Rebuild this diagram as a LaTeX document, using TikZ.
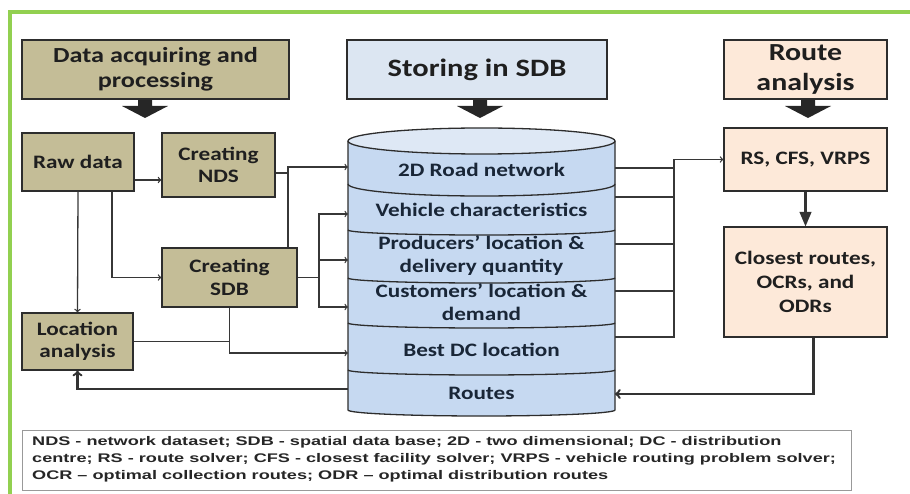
\documentclass[tikz,border=0pt]{standalone}
\usepackage{fontspec}
\setmainfont{Carlito}[FakeStretch=1.22]
\newfontfamily\legendfont{Liberation Sans}[FakeStretch=1.45]
\usepackage{tikz}
\usetikzlibrary{positioning}
\usetikzlibrary{arrows}
\definecolor{framegreen}{RGB}{146,208,80}
\definecolor{tanfill}{RGB}{196,189,151}
\definecolor{bluefill}{RGB}{220,230,242}
\definecolor{cylfill}{RGB}{198,217,241}
\definecolor{cyltop}{RGB}{222,232,245}
\definecolor{peachfill}{RGB}{253,233,217}
\definecolor{boxline}{RGB}{45,45,45}
\definecolor{connline}{RGB}{55,55,55}
\definecolor{cyltext}{RGB}{25,38,55}
\tikzset{
	box/.style={
		draw=boxline,
		line width=1.3pt,
		align=center,
		inner sep=0pt,
		text=black!88},
	tanbox/.style={box, fill=tanfill},
	bluebox/.style={box, fill=bluefill},
	peachbox/.style={box, fill=peachfill},
	title/.style={font=\fontsize{21.5}{25}\selectfont\bfseries},
	item/.style={font=\fontsize{19}{22.5}\selectfont\bfseries},
	band/.style={align=center, text=cyltext,
		font=\fontsize{19}{23}\selectfont\bfseries},
	cylline/.style={draw=boxline, line width=1.3pt},
	conn/.style={draw=connline, line width=1.3pt, >=to},
	heavy/.style={draw=black!80, line width=2.4pt, >=to},
	bigarrow/.style={fill=black!85}
}
\newcommand{\bigdown}[1]{%
	\fill[bigarrow] ([xshift=-7pt]#1) -- ++(14,0) -- ++(0,-6) -- ++(16,0)
		-- ++(-23,-12) -- ++(-23,12) -- ++(16,0) -- cycle;}

\begin{document}
\begin{tikzpicture}[x=1pt,y=1pt]
	\useasboundingbox (0,0) rectangle (910,-494);
	\draw[framegreen, line width=4pt] (9.5,-600) -- (9.5,-12.5) -- (1000,-12.5);

	% headers
	\node[tanbox, title, minimum width=267pt, minimum height=59pt] (acq) at (155.5,-69.5) {Data acquiring and\\processing};
	\node[bluebox, title, font=\fontsize{25}{30}\selectfont\bfseries, minimum width=260pt, minimum height=59pt] (store) at (477,-69.5) {Storing in SDB};
	\node[peachbox, title, font=\fontsize{24.5}{30}\selectfont\bfseries, minimum width=163pt, minimum height=59pt] (route) at (805.5,-69.5) {Route\\analysis};
	\coordinate (h1) at (145,-100);
	\coordinate (h2) at (480,-100);
	\coordinate (h3) at (808,-100);
	\bigdown{h1}
	\bigdown{h2}
	\bigdown{h3}

	% left boxes
	\node[tanbox, item, minimum width=112pt, minimum height=58pt] (raw) at (78,-162) {Raw data};
	\node[tanbox, item, minimum width=113pt, minimum height=64pt] (nds) at (218.5,-165) {Creating\\NDS};
	\node[tanbox, item, minimum width=135pt, minimum height=59pt] (sdb) at (229.5,-277.5) {Creating\\SDB};
	\node[tanbox, item, minimum width=111pt, minimum height=57pt] (loc) at (77.5,-341.5) {Location\\analysis};

	% right boxes
	\node[peachbox, item, minimum width=163pt, minimum height=63pt] (rs) at (805.5,-159.5) {RS, CFS, VRPS};
	\node[peachbox, item, font=\fontsize{19}{24}\selectfont\bfseries, minimum width=163pt, minimum height=110pt] (closest) at (805.5,-282) {Closest routes,\\OCRs, and\\ODRs};

	% spatial data base
	\fill[cylfill] (348,-141) -- (348,-410) arc[start angle=180, end angle=360, x radius=133.5, y radius=6] -- (615,-141) -- cycle;
	\draw[cylline] (348,-141) -- (348,-410) arc[start angle=180, end angle=360, x radius=133.5, y radius=6] -- (615,-141);
	\draw[cylline, fill=cyltop] (481.5,-141) ellipse[x radius=133.5, y radius=13];
	\draw[cylline] (348,-184) arc[start angle=180, end angle=360, x radius=133.5, y radius=12];
	\foreach \y in {230,278,323,370}
		\draw[cylline] (348,-\y) arc[start angle=180, end angle=360, x radius=133.5, y radius=5];
	\node[band] (b1) at (481.5,-170) {2D Road network};
	\node[band] (b2) at (481.5,-210) {Vehicle characteristics};
	\node[band] (b3) at (481.5,-256) {Producers’ location \&\\delivery quantity};
	\node[band] (b4) at (481.5,-302) {Customers’ location \&\\demand};
	\node[band] (b5) at (481.5,-350) {Best DC location};
	\node[band] (b6) at (481.5,-393) {Routes};

	\coordinate (in1) at (348,-167);
	\coordinate (in2) at (348,-214);
	\coordinate (in3) at (348,-260);
	\coordinate (in4) at (348,-307);
	\coordinate (in5) at (348,-353);
	\coordinate (rin) at (348,-389);
	\coordinate (out1) at (615,-168);
	\coordinate (out2) at (615,-197);
	\coordinate (out3) at (615,-244);
	\coordinate (out4) at (615,-291);
	\coordinate (out5) at (615,-337);
	\coordinate (rout) at (615,-394);
	\coordinate (j1) at (288,-167);
	\coordinate (j2) at (319,-277.5);
	\coordinate (j3) at (674,-159.5);

	% connectors
	\draw[conn, ->] ([yshift=-18pt]raw.east) -- ([yshift=-18pt]raw.east -| nds.west);
	\draw[conn, ->] (raw.south) -- (loc.north);
	\draw[conn, ->] ([xshift=34pt]raw.south) |- (sdb.west);
	\draw[conn, ->] ([yshift=-8pt]nds.east) -| (j1) -- (in1);
	\draw[conn] (sdb.north -| j1) -- (j1);
	\draw[conn] (sdb.east) -- (j2);
	\foreach \i in {2,3,4}
		\draw[conn, ->] (j2) |- (in\i);
	\draw[conn, ->] (sdb.south) |- (in5);
	\draw[conn] (loc.east) -- (loc.east -| sdb.south);
	\draw[heavy, ->] (rin) -| (loc.south);

	\foreach \i in {1,...,4}
		\draw[conn] (out\i) -- (out\i -| j3);
	\draw[conn, ->] (out5) -| (j3) -- (rs.west);
	\draw[heavy, -triangle 45] (rs.south) -- (closest.north);
	\draw[heavy, ->] ([xshift=8pt]closest.south) |- (rout);

	% legend
	\node[draw=black!40, line width=0.8pt, fill=white, minimum width=829pt, minimum height=60pt, inner sep=0pt] (legend) at (436.5,-460) {};
	\node[anchor=north west, align=left, inner sep=0pt, text=black!85,
		font=\legendfont\fontsize{12.5}{17}\selectfont\bfseries] (legtext) at (32,-436)
		{NDS - network dataset; SDB - spatial data base; 2D - two dimensional; DC - distribution\\
		centre; RS - route solver; CFS - closest facility solver; VRPS - vehicle routing problem solver;\\
		OCR – optimal collection routes; ODR – optimal distribution routes};
\end{tikzpicture}
\end{document}
